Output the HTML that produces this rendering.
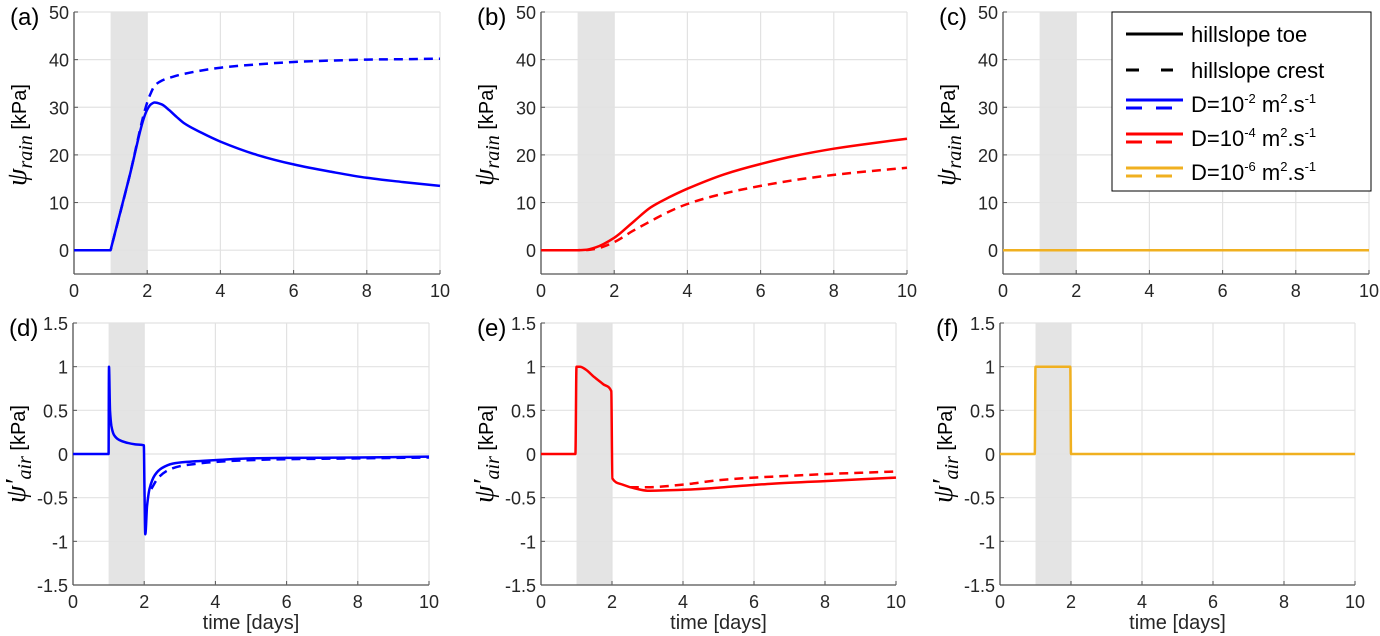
<!DOCTYPE html>
<html><head><meta charset="utf-8"><style>
body{margin:0;background:#fff}
svg{display:block;font-family:"Liberation Sans",Arial,sans-serif}
</style></head><body>
<svg id="fig" width="1380" height="636" viewBox="0 0 1380 636"></svg>
<script>
// ---- data ----
const xTicks=[0,2,4,6,8,10];
const yTicksTop=[0,10,20,30,40,50];
const yTicksBot=[-1.5,-1,-0.5,0,0.5,1,1.5];
const rainWindow=[1,2];
// (a) D=1e-2
const aToeX=[0,1,1.02,1.5,2,2.1,2.2,2.4,2.6,2.8,3,3.5,4,5,6,7,8,9,10];
const aToeY=[0,0,0.6,15,29.5,30.6,31,30.6,29.4,28,26.7,24.6,22.8,20,18,16.5,15.2,14.3,13.5];
const aCrestX=[0,1,1.02,1.5,2,2.1,2.2,2.4,2.7,3,4,5,6,7,8,9,10];
const aCrestY=[0,0,0.6,15,31,33,34.5,35.6,36.4,37,38.3,39,39.5,39.8,40,40.1,40.2];
// (b) D=1e-4
const bToeX=[0,1,1.2,1.5,2,2.5,3,3.5,4,5,6,7,8,9,10];
const bToeY=[0,0,0.05,0.6,2.6,5.8,9,11.1,12.9,15.9,18.1,19.9,21.3,22.4,23.4];
const bCrestX=[0,1,1.2,1.5,2,2.5,3,3.5,4,5,6,7,8,9,10];
const bCrestY=[0,0,0.02,0.3,1.7,4,6.1,8.1,9.7,11.9,13.5,14.8,15.8,16.6,17.3];
// (c) D=1e-6
const cToeX=[0,10]; const cToeY=[0,0];
// (d)
const dToeX=[0,1,1.01,1.04,1.08,1.15,1.3,1.5,1.75,1.99,2.01,2.03,2.08,2.15,2.3,2.5,2.8,3.2,4,5,6,8,10];
const dToeY=[0,0,1,0.5,0.32,0.22,0.16,0.13,0.11,0.1,-0.5,-0.92,-0.6,-0.4,-0.24,-0.16,-0.11,-0.09,-0.07,-0.05,-0.045,-0.04,-0.03];
const dCrestX=[2.2,2.4,2.7,3,3.5,4,5,6,8,10];
const dCrestY=[-0.4,-0.27,-0.18,-0.14,-0.11,-0.09,-0.07,-0.06,-0.05,-0.04];
// (e)
const eToeX=[0,0.97,1.0,1.1,1.25,1.5,1.75,1.98,2.01,2.3,2.7,3,4,5.5,6.5,8,10];
const eToeY=[0,0,1,1,0.97,0.88,0.8,0.72,-0.28,-0.35,-0.4,-0.42,-0.41,-0.37,-0.34,-0.31,-0.27];
const eCrestX=[2.5,3,4,5,6,7,8,9,10];
const eCrestY=[-0.38,-0.38,-0.35,-0.3,-0.27,-0.25,-0.23,-0.215,-0.2];
// (f)
const fToeX=[0,0.98,1.0,1.98,2.0,10];
const fToeY=[0,0,1,1,0,0];

const NS="http://www.w3.org/2000/svg";
const svg=document.getElementById('fig');
function mk(tag,attrs,parent){const e=document.createElementNS(NS,tag);for(const k in attrs)e.setAttribute(k,attrs[k]);(parent||svg).appendChild(e);return e;}

function monoPath(px,py){
 const n=px.length;
 if(n<3)return px.map((v,i)=>(i?'L':'M')+v.toFixed(1)+','+py[i].toFixed(1)).join(' ');
 const dx=[],s=[];
 for(let i=0;i<n-1;i++){dx[i]=px[i+1]-px[i];s[i]=(py[i+1]-py[i])/(dx[i]||1e-6);}
 const m=[s[0]];
 for(let i=1;i<n-1;i++){ if(s[i-1]*s[i]<=0)m[i]=0; else {const w1=2*dx[i]+dx[i-1],w2=dx[i]+2*dx[i-1];m[i]=(w1+w2)/(w1/s[i-1]+w2/s[i]);} }
 m[n-1]=s[n-2];
 let d='M'+px[0].toFixed(1)+','+py[0].toFixed(1);
 for(let i=0;i<n-1;i++){
  const h=dx[i]/3;
  d+=' C'+(px[i]+h).toFixed(1)+','+(py[i]+m[i]*h).toFixed(1)+' '+(px[i+1]-h).toFixed(1)+','+(py[i+1]-m[i+1]*h).toFixed(1)+' '+px[i+1].toFixed(1)+','+py[i+1].toFixed(1);
 }
 return d;
}

const panels=[
 {id:'a',x0:74,x1:440,yt:12,yb:274,ymin:-5,ymax:50,ticks:yTicksTop,top:true,col:'#0000ff',series:[[aToeX,aToeY,false],[aCrestX,aCrestY,true]]},
 {id:'b',x0:541,x1:907,yt:12,yb:274,ymin:-5,ymax:50,ticks:yTicksTop,top:true,col:'#ff0000',series:[[bToeX,bToeY,false],[bCrestX,bCrestY,true]]},
 {id:'c',x0:1003,x1:1369,yt:12,yb:274,ymin:-5,ymax:50,ticks:yTicksTop,top:true,col:'#f0b020',series:[[cToeX,cToeY,false]]},
 {id:'d',x0:73,x1:429,yt:323,yb:585,ymin:-1.5,ymax:1.5,ticks:yTicksBot,top:false,col:'#0000ff',series:[[dCrestX,dCrestY,true],[dToeX,dToeY,false]]},
 {id:'e',x0:541,x1:896,yt:323,yb:585,ymin:-1.5,ymax:1.5,ticks:yTicksBot,top:false,col:'#ff0000',series:[[eToeX,eToeY,false],[eCrestX,eCrestY,true]]},
 {id:'f',x0:1000,x1:1355,yt:323,yb:585,ymin:-1.5,ymax:1.5,ticks:yTicksBot,top:false,col:'#f0b020',series:[[fToeX,fToeY,false]]}
];

panels.forEach(p=>{
 const g=mk('g',{});
 
 
 const X=v=>p.x0+(v-0)/10*(p.x1-p.x0);
 const Y=v=>p.yb-(v-p.ymin)/(p.ymax-p.ymin)*(p.yb-p.yt);
 const sh=mk('rect',{x:X(rainWindow[0]),y:p.yt,width:X(rainWindow[1])-X(rainWindow[0]),height:p.yb-p.yt,fill:'#e4e4e4'},g);
 
 
 xTicks.forEach(t=>{
  mk('line',{x1:X(t),x2:X(t),y1:p.yt,y2:p.yb,stroke:'#e2e2e2','stroke-width':1.2},g);
  mk('line',{x1:X(t),x2:X(t),y1:p.yb,y2:p.yb-4,stroke:'#555'},g);
  const tx=mk('text',{x:X(t),y:p.yb+23,'font-size':18,'text-anchor':'middle',fill:'#262626'},g);
  tx.textContent=t;
  
  
 });
 p.ticks.forEach(t=>{
  mk('line',{x1:p.x0,x2:p.x1,y1:Y(t),y2:Y(t),stroke:'#e2e2e2','stroke-width':1.2},g);
  mk('line',{x1:p.x0,x2:p.x0+4,y1:Y(t),y2:Y(t),stroke:'#555'},g);
  const ty=mk('text',{x:p.x0-5,y:Y(t)+7,'font-size':18,'text-anchor':'end',fill:'#262626'},g);
  ty.textContent=t;
  
  
 });
 mk('line',{x1:p.x0,x2:p.x0,y1:p.yt,y2:p.yb,stroke:'#555','stroke-width':1.3},g);
 mk('line',{x1:p.x0,x2:p.x1,y1:p.yb,y2:p.yb,stroke:'#555','stroke-width':1.3},g);
 p.series.forEach(s=>{
  const d=monoPath(s[0].map(X),s[1].map(Y));
  const pa=mk('path',{d:d,fill:'none',stroke:p.col,'stroke-width':2.5,'stroke-linejoin':'round'},g);
  if(s[2])pa.setAttribute('stroke-dasharray','9,6');
  
  
 });
 const lb=mk('text',{x:p.x0-64,y:p.yt+13,'font-size':24,fill:'#000'},g);
 lb.textContent='('+p.id+')';
 
 
 const cy=(p.yt+p.yb)/2+ (p.top?-8:0);
 const yl=mk('text',{transform:`translate(${p.x0-48},${cy}) rotate(-90)`,'font-size':20,'text-anchor':'middle',fill:'#000'},g);
 yl.innerHTML=p.top?'<tspan font-family="Liberation Serif,serif" font-style="italic" font-size="28">ψ</tspan><tspan font-family="Liberation Serif,serif" font-style="italic" font-size="20" dy="6">rain</tspan><tspan dy="-6">  [kPa]</tspan>'
  :'<tspan font-family="Liberation Serif,serif" font-style="italic" font-size="28">ψ′</tspan><tspan font-family="Liberation Serif,serif" font-style="italic" font-size="20" dy="6">air</tspan><tspan dy="-6">  [kPa]</tspan>';
 
 
 if(!p.top){
  const xl=mk('text',{x:(p.x0+p.x1)/2,y:629,'font-size':20,'text-anchor':'middle',fill:'#262626'},g);
  xl.textContent='time [days]';
  
  
 }
});
</script>
<svg style="position:absolute;left:0;top:0" width="1380" height="636">
<g font-family="Liberation Sans,Arial,sans-serif" font-size="22">
<rect x="1112" y="12" width="259" height="179" fill="#fff" stroke="#000" stroke-width="1"/>
<g><line x1="1126" x2="1183" y1="34" y2="34" stroke="#000" stroke-width="3"/><text x="1191" y="42">hillslope toe</text></g>
<g><line x1="1126" x2="1139" y1="70" y2="70" stroke="#000" stroke-width="3"/><line x1="1161" x2="1173" y1="70" y2="70" stroke="#000" stroke-width="3"/><text x="1191" y="78">hillslope crest</text></g>
<g><line x1="1126" x2="1183" y1="100" y2="100" stroke="#0000ff" stroke-width="3"/><line x1="1126" x2="1142" y1="108" y2="108" stroke="#0000ff" stroke-width="3"/><line x1="1156" x2="1172" y1="108" y2="108" stroke="#0000ff" stroke-width="3"/><text x="1191" y="112">D=10<tspan font-size="13" dy="-9">-2</tspan><tspan dy="9"> m</tspan><tspan font-size="13" dy="-9">2</tspan><tspan dy="9">.s</tspan><tspan font-size="13" dy="-9">-1</tspan></text></g>
<g><line x1="1126" x2="1183" y1="134" y2="134" stroke="#ff0000" stroke-width="3"/><line x1="1126" x2="1142" y1="142" y2="142" stroke="#ff0000" stroke-width="3"/><line x1="1156" x2="1172" y1="142" y2="142" stroke="#ff0000" stroke-width="3"/><text x="1191" y="146">D=10<tspan font-size="13" dy="-9">-4</tspan><tspan dy="9"> m</tspan><tspan font-size="13" dy="-9">2</tspan><tspan dy="9">.s</tspan><tspan font-size="13" dy="-9">-1</tspan></text></g>
<g><line x1="1126" x2="1183" y1="168" y2="168" stroke="#f0b020" stroke-width="3"/><line x1="1126" x2="1142" y1="176" y2="176" stroke="#f0b020" stroke-width="3"/><line x1="1156" x2="1172" y1="176" y2="176" stroke="#f0b020" stroke-width="3"/><text x="1191" y="180">D=10<tspan font-size="13" dy="-9">-6</tspan><tspan dy="9"> m</tspan><tspan font-size="13" dy="-9">2</tspan><tspan dy="9">.s</tspan><tspan font-size="13" dy="-9">-1</tspan></text></g>
</g>
</svg>
</body></html>
